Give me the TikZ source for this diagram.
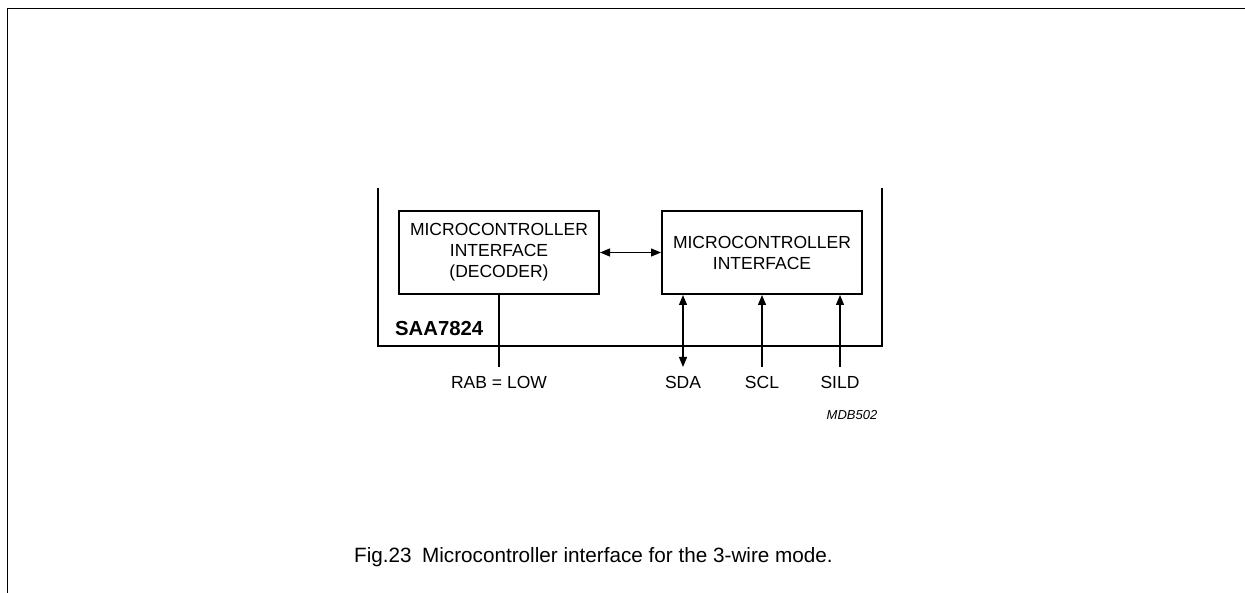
\documentclass[tikz,border=0pt]{standalone}
\usepackage{fontspec}
\setmainfont{Liberation Sans}
\usetikzlibrary{arrows.meta}
\begin{document}
\begin{tikzpicture}[x=1pt,y=-1pt,
  frameline/.style={line width=1.8pt},
  chipline/.style={line width=2pt},
  blockbox/.style={draw,line width=2pt,minimum width=200pt,minimum height=83pt,align=center,inner sep=0pt,
    font=\fontsize{17.5}{21}\selectfont},
  wire/.style={line width=1.2pt},
  tip/.style={-{Triangle[length=10pt,width=8pt]}},
  dtip/.style={{Triangle[length=10pt,width=8pt]}-{Triangle[length=10pt,width=8pt]}},
  pinlabel/.style={anchor=base,inner sep=0pt,font=\fontsize{17.5}{21}\selectfont},
]
\useasboundingbox (0,0) rectangle (1245,593);
% page frame
\draw[frameline] (1245,8.5) -- (7.5,8.5) -- (7.5,593);
% chip outline
\draw[chipline] (378,188) -- (378,346) -- (881.5,346) -- (881.5,188);
% blocks
\node[blockbox] (dec) at (499,252.5) {MICROCONTROLLER\\INTERFACE\\(DECODER)};
\node[blockbox] (mci) at (762,252.5) {MICROCONTROLLER\\INTERFACE};
\draw[wire,dtip] (dec.east) -- (mci.west);
% chip name
\node[anchor=base west,inner sep=0pt,font=\fontsize{20.3}{24}\selectfont\bfseries] (chip) at (395,335.5) {SAA7824};
% pin labels
\node[pinlabel] (rab) at (499,389) {RAB = LOW};
\node[pinlabel] (sda) at (683,389) {SDA};
\node[pinlabel] (scl) at (762,389) {SCL};
\node[pinlabel] (sild) at (840,389) {SILD};
% pin end coordinates
\coordinate (rabend) at (499,367);
\coordinate (sdaend) at (683,367);
\coordinate (sclend) at (762,367);
\coordinate (sildend) at (840,367);
\draw[wire] (dec.south) -- (rabend);
\draw[wire,dtip] (sdaend) -- (mci.south west -| sdaend);
\draw[wire,tip] (sclend) -- (mci.south);
\draw[wire,tip] (sildend) -- (mci.south west -| sildend);
% code
\node[anchor=base,inner sep=0pt,font=\fontsize{13}{15}\selectfont\itshape] (code) at (852,420) {MDB502};
% caption
\node[anchor=base west,inner sep=0pt,font=\fontsize{20.7}{24}\selectfont] (cap) at (354,562) {Fig.23\hspace{0.5em}Microcontroller interface for the 3-wire mode.};
\end{tikzpicture}
\end{document}
